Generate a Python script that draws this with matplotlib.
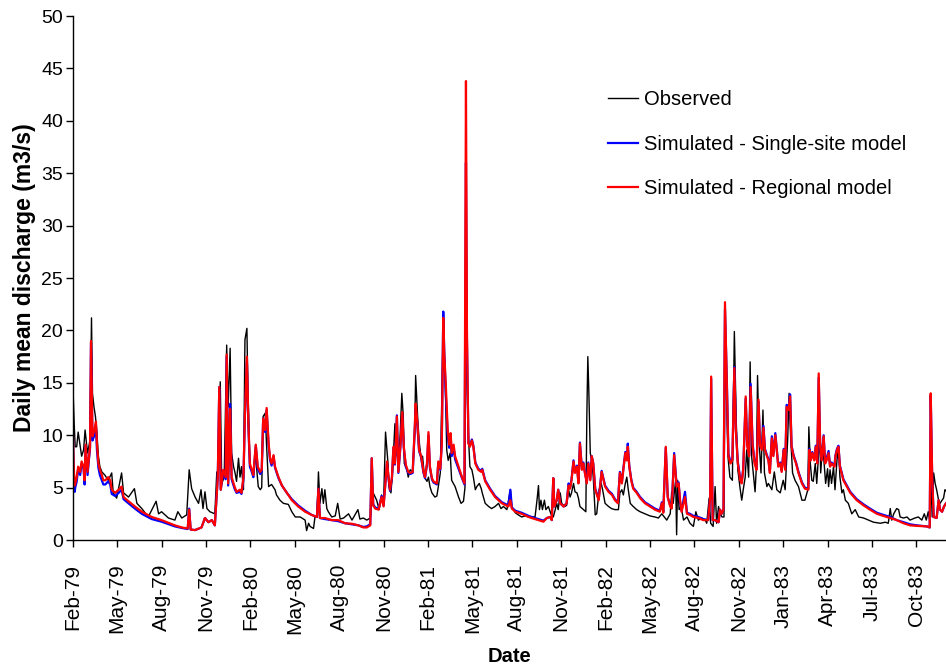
import datetime as dt
import numpy as np
import matplotlib
matplotlib.use("Agg")
import matplotlib.pyplot as plt

plt.rcParams["font.family"] = ["Liberation Sans", "DejaVu Sans"]

# Daily mean discharge, days counted from the first record (1979-02-20)
start_date = dt.date(1979, 2, 20)

obs_days = [
    0, 1, 3, 5, 8, 11, 15, 18, 22, 25, 30, 35, 38, 40, 43, 46, 49, 52, 55, 59,
    65, 72, 79, 82, 89, 99, 103, 113, 125, 130, 140, 153, 169, 174, 180, 194, 207, 213, 221, 231,
    236, 241, 248, 255, 260, 264, 268, 272, 278, 288, 292, 295, 299, 302, 307, 312, 315, 319, 322, 326,
    329, 332, 336, 339, 342, 346, 349, 353, 355, 357, 359, 363, 366, 370, 373, 376, 380, 383, 386, 390,
    393, 397, 403, 410, 413, 420, 427, 437, 444, 451, 461, 471, 474, 478, 481, 488, 491, 495, 498, 501,
    505, 508, 511, 515, 518, 525, 532, 537, 542, 549, 559, 566, 578, 582, 589, 596, 603, 606, 609, 613,
    616, 621, 626, 630, 634, 639, 641, 645, 648, 653, 655, 657, 660, 664, 667, 670, 672, 677, 680, 684,
    689, 693, 695, 699, 702, 706, 709, 713, 718, 721, 724, 728, 734, 738, 741, 745, 748, 751, 755, 758,
    761, 765, 768, 775, 782, 787, 792, 795, 797, 799, 802, 805, 809, 812, 816, 819, 824, 828, 830, 836,
    843, 849, 856, 863, 868, 873, 880, 887, 890, 897, 903, 910, 917, 924, 930, 937, 941, 944, 946, 949,
    952, 956, 959, 964, 970, 974, 978, 981, 984, 988, 991, 997, 1001, 1005, 1008, 1011, 1015, 1018, 1022, 1025,
    1028, 1035, 1040, 1042, 1044, 1046, 1049, 1052, 1055, 1059, 1062, 1067, 1071, 1074, 1079, 1086, 1092, 1099, 1106, 1109,
    1113, 1116, 1120, 1123, 1126, 1130, 1136, 1143, 1150, 1160, 1170, 1180, 1187, 1194, 1199, 1204, 1211, 1214, 1217, 1222,
    1224, 1226, 1229, 1233, 1238, 1245, 1251, 1258, 1263, 1268, 1275, 1282, 1285, 1290, 1293, 1298, 1302, 1305, 1309, 1312,
    1316, 1320, 1322, 1325, 1328, 1332, 1337, 1341, 1345, 1348, 1353, 1356, 1359, 1363, 1366, 1370, 1373, 1376, 1380, 1383,
    1386, 1388, 1391, 1395, 1399, 1402, 1407, 1410, 1417, 1422, 1427, 1434, 1440, 1444, 1449, 1452, 1455, 1459, 1464, 1471,
    1478, 1484, 1490, 1492, 1495, 1498, 1501, 1505, 1508, 1511, 1514, 1516, 1520, 1523, 1526, 1530, 1532, 1535, 1538, 1542,
    1545, 1549, 1552, 1555, 1559, 1562, 1566, 1572, 1579, 1586, 1593, 1603, 1613, 1623, 1637, 1647, 1653, 1657, 1660, 1664,
    1670, 1674, 1677, 1684, 1691, 1697, 1707, 1714, 1721, 1726, 1730, 1734, 1737, 1739, 1742, 1745, 1748, 1751, 1755, 1758,
    1762, 1765, 1768, 1770,
]
observed = [
    12.0, 13.8, 11.0, 8.9, 8.9, 10.3, 9.0, 8.0, 8.6, 10.5, 8.3, 9.5, 21.2, 14.0, 12.7, 11.8, 10.2, 8.0, 7.0, 6.5,
    6.2, 5.7, 6.4, 4.5, 4.0, 6.4, 4.5, 4.1, 4.9, 3.5, 3.0, 2.2, 3.7, 2.5, 2.7, 2.1, 1.9, 2.7, 2.1, 2.4,
    6.7, 4.9, 4.1, 3.5, 4.8, 3.0, 4.6, 3.0, 2.7, 2.5, 6.5, 6.0, 15.1, 5.4, 6.0, 18.6, 12.7, 18.3, 8.3, 7.0,
    6.4, 5.6, 7.8, 6.0, 7.0, 4.8, 19.1, 20.2, 14.3, 11.1, 7.0, 6.7, 6.0, 8.3, 6.7, 5.1, 4.8, 5.0, 11.8, 12.1,
    8.9, 5.1, 5.3, 4.8, 4.3, 3.8, 3.5, 3.4, 2.7, 2.2, 2.2, 1.9, 0.9, 1.6, 1.3, 1.1, 2.2, 2.2, 6.5, 3.5,
    4.9, 3.5, 4.8, 3.0, 2.7, 2.2, 2.3, 3.5, 2.0, 2.1, 2.5, 1.9, 2.9, 2.0, 2.1, 1.9, 2.1, 3.5, 4.5, 4.1,
    3.8, 2.9, 4.3, 3.5, 10.3, 7.3, 5.1, 4.5, 6.4, 11.1, 8.0, 11.5, 6.5, 10.5, 14.0, 11.8, 7.3, 6.8, 6.0, 6.7,
    6.5, 10.2, 15.7, 11.8, 9.5, 7.8, 8.0, 6.0, 5.6, 6.0, 5.1, 4.5, 4.1, 4.2, 5.1, 6.4, 13.4, 20.5, 15.3, 8.6,
    7.6, 8.3, 5.7, 5.1, 4.1, 3.5, 3.7, 5.0, 34.5, 15.0, 9.9, 7.0, 6.7, 6.0, 4.8, 5.1, 5.4, 4.9, 4.5, 3.5,
    3.2, 3.0, 3.2, 3.5, 3.0, 3.2, 2.9, 4.8, 3.2, 2.6, 2.4, 2.2, 2.3, 2.2, 2.2, 2.2, 3.8, 5.2, 2.9, 3.8,
    2.9, 3.8, 2.9, 3.2, 2.4, 2.2, 2.9, 3.5, 2.9, 4.5, 3.5, 3.2, 3.3, 4.8, 4.1, 4.5, 5.4, 4.6, 4.5, 4.0,
    3.2, 2.9, 2.7, 11.8, 17.5, 14.3, 8.3, 7.6, 6.0, 2.4, 2.5, 4.8, 5.4, 4.8, 3.5, 3.2, 3.0, 2.9, 2.9, 4.5,
    4.8, 4.3, 5.4, 6.0, 4.8, 3.5, 3.2, 2.9, 2.7, 2.5, 2.3, 2.2, 2.1, 2.5, 2.2, 1.9, 2.5, 4.6, 3.5, 5.7,
    0.5, 5.7, 2.9, 3.2, 1.9, 2.2, 1.6, 1.3, 2.7, 1.9, 2.1, 1.9, 1.6, 4.0, 1.6, 1.3, 5.1, 1.6, 3.2, 2.5,
    2.2, 2.2, 18.6, 14.0, 8.0, 6.0, 5.7, 19.9, 11.1, 6.7, 4.8, 3.8, 4.8, 6.0, 8.6, 6.0, 17.0, 8.0, 6.0, 4.6,
    7.3, 15.7, 9.5, 6.4, 12.4, 6.4, 5.1, 5.4, 4.8, 6.5, 4.8, 4.5, 5.7, 4.8, 9.5, 14.0, 9.9, 6.4, 5.7, 5.1,
    3.8, 3.8, 4.8, 10.8, 7.3, 5.7, 5.6, 7.3, 5.4, 7.6, 10.5, 6.4, 9.2, 7.3, 5.4, 6.8, 5.1, 6.7, 5.4, 7.0,
    4.8, 7.6, 8.9, 6.0, 4.5, 4.8, 3.8, 3.5, 2.5, 2.9, 2.2, 2.1, 1.9, 1.7, 1.6, 1.7, 1.6, 3.0, 1.9, 2.5,
    3.0, 2.9, 2.2, 2.1, 2.2, 1.9, 2.1, 2.2, 1.9, 2.5, 1.9, 2.7, 1.9, 6.4, 2.2, 6.4, 5.4, 4.8, 3.8, 3.5,
    3.8, 4.0, 4.8, 4.7,
]

sim_days = [
    0, 2, 4, 5, 8, 11, 15, 18, 22, 24, 26, 30, 33, 35, 37, 40, 44, 47, 49, 52,
    55, 59, 62, 66, 72, 76, 79, 86, 93, 99, 103, 113, 126, 140, 160, 180, 207, 221, 233, 236,
    239, 248, 261, 268, 275, 282, 288, 294, 297, 300, 305, 310, 312, 315, 319, 322, 328, 332, 339, 342,
    346, 349, 353, 356, 359, 363, 366, 371, 375, 380, 383, 386, 390, 393, 397, 400, 403, 407, 410, 417,
    424, 434, 444, 457, 471, 484, 495, 498, 501, 511, 525, 538, 552, 566, 579, 589, 596, 603, 606, 609,
    613, 620, 626, 630, 637, 640, 643, 647, 650, 653, 657, 660, 664, 668, 671, 675, 680, 684, 689, 693,
    695, 698, 702, 706, 711, 714, 718, 721, 724, 728, 731, 738, 741, 745, 748, 751, 753, 756, 760, 763,
    766, 768, 772, 775, 782, 789, 794, 797, 799, 802, 805, 809, 812, 816, 822, 828, 830, 836, 846, 856,
    870, 883, 887, 890, 897, 910, 924, 930, 944, 954, 961, 968, 971, 974, 976, 981, 984, 988, 995, 1001,
    1005, 1008, 1011, 1015, 1018, 1022, 1025, 1028, 1032, 1035, 1038, 1042, 1045, 1049, 1052, 1055, 1059, 1066, 1069, 1072,
    1076, 1079, 1086, 1093, 1099, 1105, 1109, 1113, 1116, 1120, 1123, 1125, 1128, 1132, 1136, 1143, 1150, 1160, 1170, 1180,
    1190, 1194, 1197, 1202, 1206, 1211, 1214, 1219, 1224, 1228, 1231, 1234, 1241, 1245, 1251, 1258, 1268, 1278, 1288, 1292,
    1294, 1297, 1302, 1309, 1312, 1315, 1319, 1322, 1326, 1329, 1333, 1337, 1341, 1344, 1348, 1353, 1356, 1359, 1364, 1367,
    1371, 1374, 1378, 1382, 1386, 1390, 1393, 1397, 1400, 1403, 1407, 1410, 1413, 1417, 1420, 1424, 1427, 1430, 1434, 1437,
    1441, 1444, 1447, 1451, 1454, 1457, 1461, 1466, 1471, 1478, 1484, 1491, 1493, 1496, 1499, 1503, 1506, 1509, 1512, 1515,
    1518, 1522, 1525, 1528, 1532, 1535, 1538, 1544, 1546, 1549, 1552, 1555, 1562, 1569, 1576, 1589, 1603, 1616, 1630, 1643,
    1657, 1670, 1684, 1697, 1711, 1731, 1737, 1739, 1742, 1745, 1751, 1755, 1758, 1762, 1766, 1770,
]
regional_model = [
    10.9, 7.0, 5.2, 5.4, 6.0, 7.0, 6.5, 7.5, 7.0, 5.7, 9.1, 6.5, 8.0, 8.9, 19.0, 9.9, 10.5, 11.3, 9.2, 7.3,
    6.7, 6.2, 5.7, 5.7, 6.0, 5.7, 4.8, 4.5, 4.8, 5.1, 4.1, 3.7, 3.2, 2.7, 2.2, 1.9, 1.4, 1.2, 1.1, 2.9,
    1.0, 0.95, 1.2, 2.1, 1.7, 1.9, 1.4, 6.0, 14.6, 4.8, 6.7, 6.0, 17.7, 5.4, 12.5, 6.0, 5.1, 4.6, 4.8, 4.5,
    6.0, 12.1, 17.5, 11.1, 7.3, 6.7, 6.2, 9.1, 7.0, 6.5, 6.7, 11.6, 10.5, 12.6, 9.2, 7.8, 7.3, 8.1, 7.0, 6.0,
    5.2, 4.5, 3.8, 3.2, 2.7, 2.4, 2.2, 4.9, 2.1, 2.1, 1.9, 1.9, 1.6, 1.55, 1.4, 1.2, 1.2, 1.4, 7.8, 3.3,
    3.0, 2.9, 4.1, 3.2, 7.5, 6.0, 4.8, 6.0, 8.9, 7.3, 11.8, 6.5, 8.9, 12.2, 8.9, 7.2, 6.5, 6.4, 6.5, 10.5,
    13.0, 11.5, 8.6, 8.0, 6.5, 6.0, 7.3, 10.3, 7.0, 5.9, 5.6, 5.4, 7.5, 6.8, 9.2, 21.2, 17.8, 15.0, 10.5, 9.1,
    10.2, 8.3, 9.1, 8.0, 7.0, 6.0, 5.4, 43.8, 20.0, 9.2, 8.9, 9.5, 8.9, 7.3, 6.7, 6.5, 6.7, 5.6, 4.8, 4.1,
    3.5, 3.2, 3.8, 3.0, 2.7, 2.5, 2.2, 2.1, 1.9, 1.75, 2.1, 2.2, 1.9, 5.9, 3.2, 3.8, 4.8, 3.5, 3.2, 3.5,
    5.2, 4.9, 5.7, 7.5, 6.4, 7.0, 5.4, 9.2, 6.7, 7.3, 6.4, 5.4, 7.3, 5.7, 8.0, 7.3, 4.8, 3.8, 5.1, 6.5,
    5.7, 5.1, 4.6, 4.3, 3.8, 3.5, 6.4, 5.4, 6.7, 8.3, 7.6, 8.9, 7.0, 5.7, 4.9, 4.5, 4.0, 3.5, 3.2, 2.9,
    2.7, 3.5, 2.6, 8.9, 4.1, 3.2, 3.0, 8.1, 5.1, 5.4, 3.8, 2.7, 4.1, 2.5, 2.4, 2.2, 2.1, 1.9, 1.9, 4.1,
    15.6, 1.9, 1.9, 1.7, 2.9, 2.5, 2.9, 22.7, 14.3, 8.0, 7.3, 7.6, 16.4, 10.5, 7.3, 5.7, 5.4, 6.7, 13.7, 9.0,
    8.0, 14.6, 9.0, 7.3, 6.7, 13.4, 9.0, 8.6, 10.7, 8.6, 8.0, 7.6, 6.4, 9.7, 8.0, 10.0, 8.6, 7.0, 7.3, 6.5,
    8.6, 6.7, 12.7, 12.4, 13.7, 8.9, 8.0, 7.3, 6.4, 5.4, 4.9, 4.8, 8.6, 7.6, 8.3, 7.6, 8.9, 7.3, 15.9, 8.9,
    7.6, 9.9, 7.3, 7.6, 8.3, 7.0, 7.3, 7.0, 8.0, 8.6, 8.9, 7.0, 5.7, 5.1, 4.5, 3.8, 3.3, 2.9, 2.5, 2.3,
    2.1, 1.9, 1.6, 1.4, 1.35, 1.3, 1.2, 14.0, 6.0, 2.2, 2.1, 3.8, 2.9, 2.7, 3.2, 3.5,
]
single_site_model = [
    10.9, 6.5, 4.6, 5.0, 5.6, 6.8, 6.2, 7.3, 6.8, 5.3, 9.0, 6.2, 7.8, 8.7, 18.8, 9.5, 10.0, 11.0, 8.6, 6.9,
    6.2, 5.7, 5.3, 5.3, 5.6, 5.3, 4.4, 4.2, 4.5, 4.8, 3.9, 3.5, 3.0, 2.5, 2.0, 1.75, 1.3, 1.15, 1.05, 3.0,
    1.0, 0.95, 1.2, 2.1, 1.7, 1.9, 1.4, 6.0, 14.6, 4.8, 6.5, 5.8, 17.5, 5.2, 13.0, 5.8, 4.9, 4.5, 4.6, 4.4,
    5.8, 12.0, 17.0, 10.8, 7.0, 6.5, 6.0, 9.0, 6.8, 6.3, 6.5, 11.6, 10.3, 12.4, 9.0, 7.6, 7.1, 8.0, 6.9, 5.9,
    5.2, 4.5, 3.9, 3.3, 2.8, 2.4, 2.2, 4.9, 2.1, 2.0, 1.9, 1.8, 1.6, 1.5, 1.4, 1.25, 1.3, 1.5, 7.8, 3.4,
    3.1, 3.0, 4.2, 3.3, 7.3, 5.9, 4.7, 5.9, 8.8, 7.2, 11.9, 6.4, 8.8, 12.0, 8.8, 7.0, 6.4, 6.3, 6.4, 10.3,
    12.5, 11.3, 8.5, 7.9, 6.4, 5.9, 7.2, 10.0, 6.9, 5.8, 5.5, 5.3, 7.4, 6.7, 9.3, 21.8, 18.0, 14.0, 10.0, 8.8,
    10.0, 8.0, 8.8, 7.7, 6.8, 5.9, 5.3, 36.0, 19.0, 9.3, 9.0, 9.6, 9.0, 7.4, 6.8, 6.6, 6.8, 5.7, 4.9, 4.2,
    3.6, 3.3, 4.8, 3.1, 2.8, 2.6, 2.3, 2.2, 2.0, 1.85, 2.1, 2.2, 1.9, 5.9, 3.2, 3.8, 4.8, 3.5, 3.2, 3.5,
    5.4, 5.0, 5.8, 7.6, 6.5, 7.1, 5.5, 9.3, 6.8, 7.4, 6.5, 5.5, 7.4, 5.8, 8.0, 7.3, 4.9, 3.9, 5.2, 6.6,
    5.8, 5.2, 4.7, 4.4, 3.9, 3.6, 6.5, 5.5, 6.8, 8.4, 7.7, 9.2, 7.1, 5.8, 5.0, 4.6, 4.1, 3.6, 3.3, 3.0,
    2.8, 3.6, 2.7, 8.8, 4.1, 3.3, 3.1, 8.3, 5.2, 5.5, 3.6, 2.8, 4.6, 2.6, 2.5, 2.3, 2.2, 2.0, 1.9, 4.1,
    15.4, 1.9, 1.9, 1.7, 2.9, 2.5, 2.9, 22.0, 14.8, 8.2, 7.5, 7.7, 16.5, 10.7, 7.5, 5.8, 5.6, 6.8, 13.5, 9.2,
    8.1, 14.9, 9.2, 7.5, 6.9, 13.2, 9.2, 8.8, 10.9, 8.7, 8.1, 7.7, 6.6, 9.9, 8.1, 10.2, 8.7, 7.1, 7.4, 6.6,
    8.7, 6.8, 12.9, 12.6, 13.9, 9.0, 8.1, 7.4, 6.5, 5.5, 5.0, 4.9, 8.7, 7.7, 8.4, 7.7, 9.0, 7.4, 15.5, 9.0,
    7.7, 10.0, 7.4, 7.8, 8.5, 7.1, 7.4, 7.1, 8.1, 8.7, 9.0, 7.1, 5.8, 5.2, 4.6, 3.9, 3.4, 3.0, 2.6, 2.4,
    2.2, 1.9, 1.7, 1.5, 1.4, 1.3, 1.2, 13.8, 6.0, 2.2, 2.1, 3.8, 2.9, 2.7, 3.2, 3.5,
]

tick_step_days = 90
n_ticks = 20


def to_dates(days):
    return [start_date + dt.timedelta(days=int(d)) for d in days]


fig = plt.figure(figsize=(9.46, 6.70), dpi=100)
ax = fig.add_axes([0.0769, 0.194, 0.9231, 0.782])

ax.plot(to_dates(obs_days), observed, color="black", lw=1.0, label="Observed")
ax.plot(to_dates(sim_days), single_site_model, color="#0000ff", lw=1.6,
        label="Simulated - Single-site model")
ax.plot(to_dates(sim_days), regional_model, color="#ff0000", lw=1.6,
        label="Simulated - Regional model")

ax.set_ylim(0, 50)
ax.set_yticks(np.arange(0, 51, 5))
ax.set_xlim(start_date, start_date + dt.timedelta(days=1770))

tick_dates = [start_date + dt.timedelta(days=tick_step_days * k) for k in range(n_ticks)]
ax.set_xticks(tick_dates)
ax.set_xticklabels([d.strftime("%b-%y") for d in tick_dates], rotation=90)

for side in ("top", "right"):
    ax.spines[side].set_visible(False)
for side in ("left", "bottom"):
    ax.spines[side].set_linewidth(1.0)

ax.tick_params(axis="x", direction="out", length=5, width=1, labelsize=15, pad=12)
ax.tick_params(axis="y", direction="out", length=5, width=1, labelsize=14, pad=2)

ax.set_ylabel("Daily mean discharge (m3/s)", fontsize=16.5, fontweight="bold", labelpad=4)
ax.set_xlabel("Date", fontsize=14.5, fontweight="bold", labelpad=10)

ax.legend(loc="upper left", bbox_to_anchor=(0.624, 0.893), bbox_transform=fig.transFigure,
          frameon=False, fontsize=14.5, handlelength=1.45, handletextpad=0.3,
          labelspacing=1.28)

fig.savefig("out.png", dpi=100)
